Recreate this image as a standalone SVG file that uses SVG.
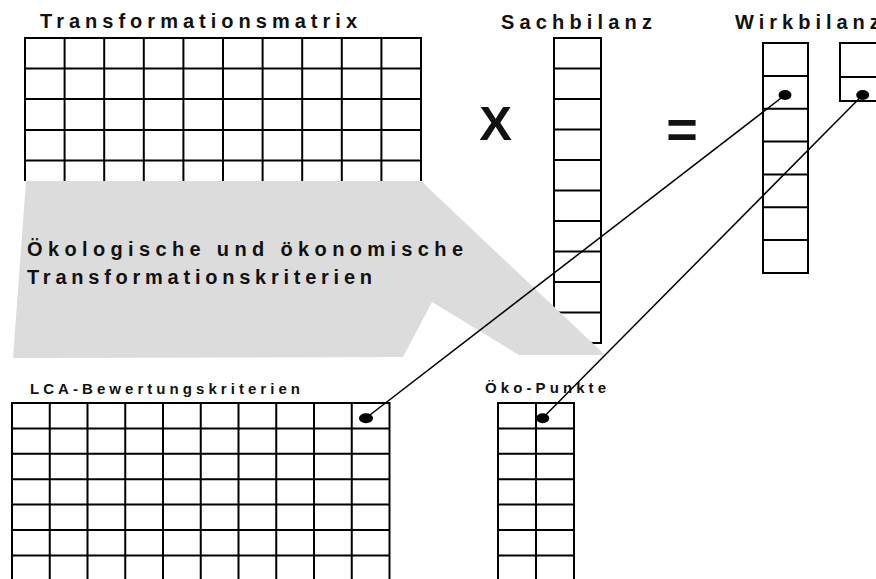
<svg xmlns="http://www.w3.org/2000/svg" width="876" height="579" viewBox="0 0 876 579">
<style>
  .grid { stroke: #000; stroke-width: 2; fill: none; }
  .lbl { font-family: "Liberation Sans", Arial, sans-serif; font-weight: bold; fill: #111; }
  .conn { stroke: #000; stroke-width: 1.5; fill: none; }
  .dot { fill: #000; }
</style>
<rect x="0" y="0" width="876" height="579" fill="#fff"/>

<g id="node-transformationsmatrix">
  <text class="lbl" x="40" y="28" font-size="20" textLength="317" lengthAdjust="spacing">Transformationsmatrix</text>
  <path class="grid" d="M25,38H421M25,68.5H421M25,99H421M25,130H421M25,160.5H421
    M25,37V181M64.6,37V181M104.2,37V181M143.8,37V181M183.4,37V181M223,37V181M262.6,37V181M302.2,37V181M341.8,37V181M381.4,37V181M421,37V181"/>
</g>

<g id="node-sachbilanz">
  <text class="lbl" x="501" y="29" font-size="20" textLength="151" lengthAdjust="spacing">Sachbilanz</text>
  <path class="grid" d="M554,38H601M554,68.5H601M554,99H601M554,129.5H601M554,160H601M554,190.5H601M554,221H601M554,251.5H601M554,282H601M554,312.5H601M554,343H601
    M554,37V344M601,37V344"/>
</g>

<g id="node-wirkbilanz">
  <text class="lbl" x="735" y="29" font-size="20" letter-spacing="5">Wirkbilanz</text>
  <path class="grid" d="M763,43H808M763,75.9H808M763,108.7H808M763,141.6H808M763,174.4H808M763,207.3H808M763,240.1H808M763,273H808
    M763,42V274M808,42V274"/>
  <path class="grid" d="M840,43H880M840,77H880M840,101H880M840,42V102"/>
</g>

<g id="operators">
  <text class="lbl" x="495.5" y="140" font-size="49" text-anchor="middle" fill="#000">X</text>
  <text class="lbl" x="682" y="148" font-size="54" text-anchor="middle" fill="#000">=</text>
</g>

<g id="node-kriterien">
  <polygon points="26,181 421,181 605,355 519,355 432,302 403,357 13,358" fill="#dcdcdc"/>
  <text class="lbl" x="27" y="256" font-size="20" textLength="436" lengthAdjust="spacing">Ökologische und ökonomische</text>
  <text class="lbl" x="27" y="284" font-size="20" textLength="345" lengthAdjust="spacing">Transformationskriterien</text>
</g>

<g id="node-lca">
  <text class="lbl" x="30" y="394" font-size="15" textLength="270" lengthAdjust="spacing">LCA-Bewertungskriterien</text>
  <path class="grid" d="M12,403H389.5M12,428.4H389.5M12,453.8H389.5M12,479.2H389.5M12,504.6H389.5M12,530H389.5M12,555.4H389.5
    M12,402V580M49.75,402V580M87.5,402V580M125.25,402V580M163,402V580M200.75,402V580M238.5,402V580M276.25,402V580M314,402V580M351.75,402V580M389.5,402V580"/>
</g>

<g id="node-oekopunkte">
  <text class="lbl" x="485" y="393" font-size="15" textLength="121" lengthAdjust="spacing">Öko-Punkte</text>
  <path class="grid" d="M498,403H574M498,428.4H574M498,453.8H574M498,479.2H574M498,504.6H574M498,530H574M498,555.4H574
    M498,402V580M536,402V580M574,402V580"/>
</g>

<g id="connectors">
  <line class="conn" x1="785" y1="95" x2="366" y2="418"/>
  <line class="conn" x1="862.7" y1="95" x2="542.7" y2="418"/>
  <ellipse class="dot" cx="785" cy="95" rx="6.5" ry="5"/>
  <ellipse class="dot" cx="862.7" cy="95" rx="6.5" ry="5"/>
  <ellipse class="dot" cx="366" cy="418.3" rx="7" ry="5"/>
  <ellipse class="dot" cx="542.7" cy="418.3" rx="6.5" ry="5"/>
</g>
</svg>
